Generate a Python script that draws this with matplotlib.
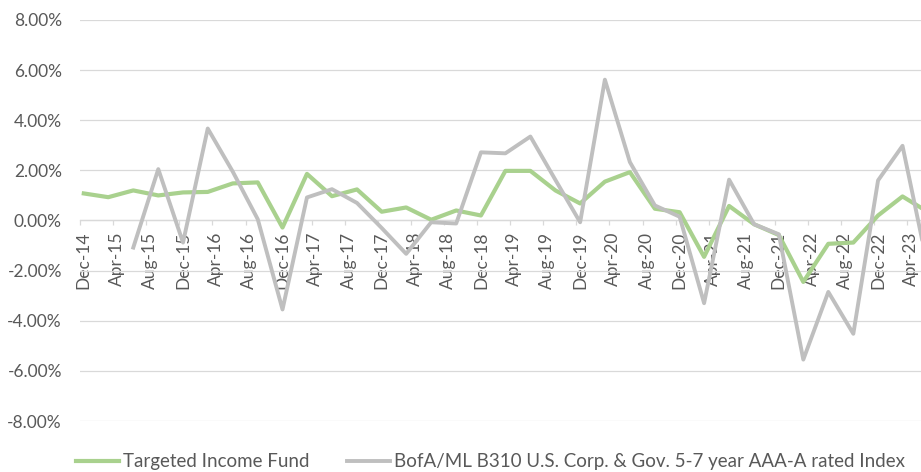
import numpy as np
import pandas as pd
import matplotlib
matplotlib.use('Agg')
import matplotlib.pyplot as plt
import matplotlib.ticker as ticker

plt.rcParams['font.family'] = ['Lato', 'DejaVu Sans']

# quarterly returns (%), Dec-14 .. Jun-23
quarters = pd.date_range('2014-12-01', periods=35, freq='3MS')
fund = [1.08, 0.93, 1.20, 1.00, 1.12, 1.14, 1.48, 1.52, -0.28, 1.86,
        0.97, 1.24, 0.35, 0.52, 0.03, 0.40, 0.20, 1.98, 1.98, 1.20,
        0.68, 1.55, 1.93, 0.47, 0.33, -1.45, 0.58, -0.15, -0.58, -2.45,
        -0.93, -0.88, 0.20, 0.96, 0.35]
index = [np.nan, np.nan, -1.08, 2.05, -0.88, 3.67, 1.95, 0.05, -3.55, 0.92,
         1.25, 0.70, -0.30, -1.33, -0.07, -0.12, 2.72, 2.68, 3.35, 1.62,
         -0.07, 5.62, 2.33, 0.60, 0.15, -3.30, 1.63, -0.15, -0.55, -5.55,
         -2.85, -4.52, 1.60, 2.98, -1.80]
fund_label = 'Targeted Income Fund'
index_label = 'BofA/ML B310 U.S. Corp. & Gov. 5-7 year AAA-A rated Index'
y_ticks = [-8, -6, -4, -2, 0, 2, 4, 6, 8]

# Excel puts each point in the middle of its month
x = quarters + pd.Timedelta(days=14)

fig = plt.figure(figsize=(9.21, 4.72), dpi=100)
ax = fig.add_axes([80 / 921, 1 - 421 / 472, 841 / 921, 401 / 472])

ax.plot(x, fund, color='#a9d18e', linewidth=3.0, label=fund_label, solid_joinstyle='round')
ax.plot(x, index, color='#bfbfbf', linewidth=2.8, label=index_label, solid_joinstyle='round')

# the chart is cut off on the right just before the last quarter
ax.set_xlim(pd.Timestamp('2014-12-01'), pd.Timestamp('2023-05-22'))
ax.set_ylim(-8, 8)

# y axis
ax.set_yticks(y_ticks)
ax.yaxis.set_major_formatter(ticker.FuncFormatter(lambda v, p: f'{v:.2f}%'))
ax.tick_params(axis='y', length=0, pad=13, labelsize=12.5, labelcolor='#595959')
ax.grid(axis='y', color='#d9d9d9', linewidth=0.9)
ax.set_axisbelow(True)

# x axis sits on the zero line, ticks every 4 months, labels mid-month
for side in ['top', 'right', 'left']:
    ax.spines[side].set_visible(False)
ax.spines['bottom'].set_position(('data', 0))
ax.spines['bottom'].set_color('#d9d9d9')
ax.spines['bottom'].set_linewidth(0.9)
ax.spines['bottom'].set_zorder(0.5)

tick_dates = pd.date_range('2014-12-01', '2023-04-01', freq='4MS')
ax.set_xticks(tick_dates)
ax.xaxis.set_major_formatter(ticker.NullFormatter())
ax.tick_params(axis='x', which='major', length=3.5, width=0.9, color='#d9d9d9', direction='out')
ax.set_xticks(tick_dates + pd.Timedelta(days=14), minor=True)
ax.set_xticklabels([d.strftime('%b-%y') for d in tick_dates], minor=True, rotation=90)
ax.tick_params(axis='x', which='minor', length=0, pad=8, labelsize=12.5, labelcolor='#595959')

fig.legend(loc='center left', bbox_to_anchor=(76 / 921, 1 - 462 / 472), ncol=2, frameon=False,
           fontsize=13.5, handlelength=2.3, handletextpad=0.2, columnspacing=2.0,
           borderpad=0, borderaxespad=0, labelcolor='#595959')

plt.savefig('out.png', dpi=100, facecolor='white')
